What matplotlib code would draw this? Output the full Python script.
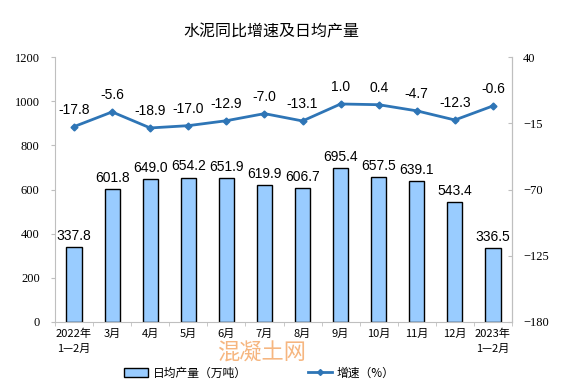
import matplotlib
matplotlib.use("Agg")
import matplotlib.pyplot as plt
import numpy as np
from matplotlib.lines import Line2D
from matplotlib.patches import Patch

plt.rcParams['font.family'] = ['Noto Sans CJK SC', 'DejaVu Sans']

categories = ["2022年\n1—2月", "3月", "4月", "5月", "6月", "7月", "8月", "9月", "10月", "11月", "12月", "2023年\n1—2月"]
output = [337.8, 601.8, 649.0, 654.2, 651.9, 619.9, 606.7, 695.4, 657.5, 639.1, 543.4, 336.5]
growth = [-17.8, -5.6, -18.9, -17.0, -12.9, -7.0, -13.1, 1.0, 0.4, -4.7, -12.3, -0.6]
left_ticks = [0, 200, 400, 600, 800, 1000, 1200]
right_ticks = [-180, -125, -70, -15, 40]

bar_color = "#99CCFF"
line_color = "#2E75B6"
spine_color = "#BFBFBF"

fig = plt.figure(figsize=(5.74, 3.92), dpi=100)
ax = fig.add_axes([55/574, 1-322/392, (512-55)/574, (322-57)/392])
ax2 = ax.twinx()

x = np.arange(len(categories))
ax.bar(x, output, width=0.4, color=bar_color, edgecolor="black", linewidth=1.0, zorder=2)
for xi, v in zip(x, output):
    ax.annotate(f"{v:.1f}", (xi, v), xytext=(0, 3), textcoords="offset points",
                ha="center", va="bottom", fontsize=10, family=["Liberation Sans"])

ax2.plot(x, growth, color=line_color, linewidth=2, marker="D", markersize=3.5, zorder=3)
for xi, v in zip(x, growth):
    ax2.annotate(f"{v:.1f}", (xi, v), xytext=(0, 7), textcoords="offset points",
                 ha="center", va="bottom", fontsize=10, family=["Liberation Sans"])

ax.set_xlim(-0.5, len(categories) - 0.5)
ax.set_ylim(0, 1200)
ax2.set_ylim(-180, 40)
ax.set_yticks(left_ticks)
ax2.set_yticks(right_ticks)
ax.set_xticks(x)
ax.set_xticklabels(categories, fontsize=8, linespacing=1.6)
ax.set_xticks(np.arange(-0.5, len(categories), 1), minor=True)
ax.tick_params(axis="x", which="major", length=0, pad=5)
ax.tick_params(axis="x", which="minor", length=3, color=spine_color)

for lab in ax.get_yticklabels():
    lab.set_family(["Liberation Serif"])
for lab in ax2.get_yticklabels():
    lab.set_family(["Liberation Serif"])
ax.tick_params(axis="y", length=3, color=spine_color, labelsize=9, pad=8)
ax2.tick_params(axis="y", length=3, color=spine_color, labelsize=9, pad=8, direction="in")

for a in (ax, ax2):
    a.spines["top"].set_visible(False)
    for s in ("left", "right", "bottom"):
        a.spines[s].set_color(spine_color)
ax2.spines["left"].set_visible(False)
ax2.spines["bottom"].set_visible(False)

fig.text(0.472, 1 - 32/392, "水泥同比增速及日均产量", ha="center", va="center", fontsize=11.5)
fig.text(0.455, 1 - 353/392, "混凝土网", ha="center", va="center", fontsize=16, color="#F4A460", alpha=0.8)

handles = [Patch(facecolor=bar_color, edgecolor="black", linewidth=1.0),
           Line2D([0], [0], color=line_color, linewidth=2, marker="D", markersize=3)]
fig.legend(handles, ["日均产量（万吨）", "增速（%）"], loc="center", bbox_to_anchor=(0.452, 1 - 373/392),
           ncol=2, frameon=False, fontsize=8.5, columnspacing=5.2, handlelength=2.0, handleheight=0.7,
           handletextpad=0.4)

fig.savefig("out.png", dpi=100)
